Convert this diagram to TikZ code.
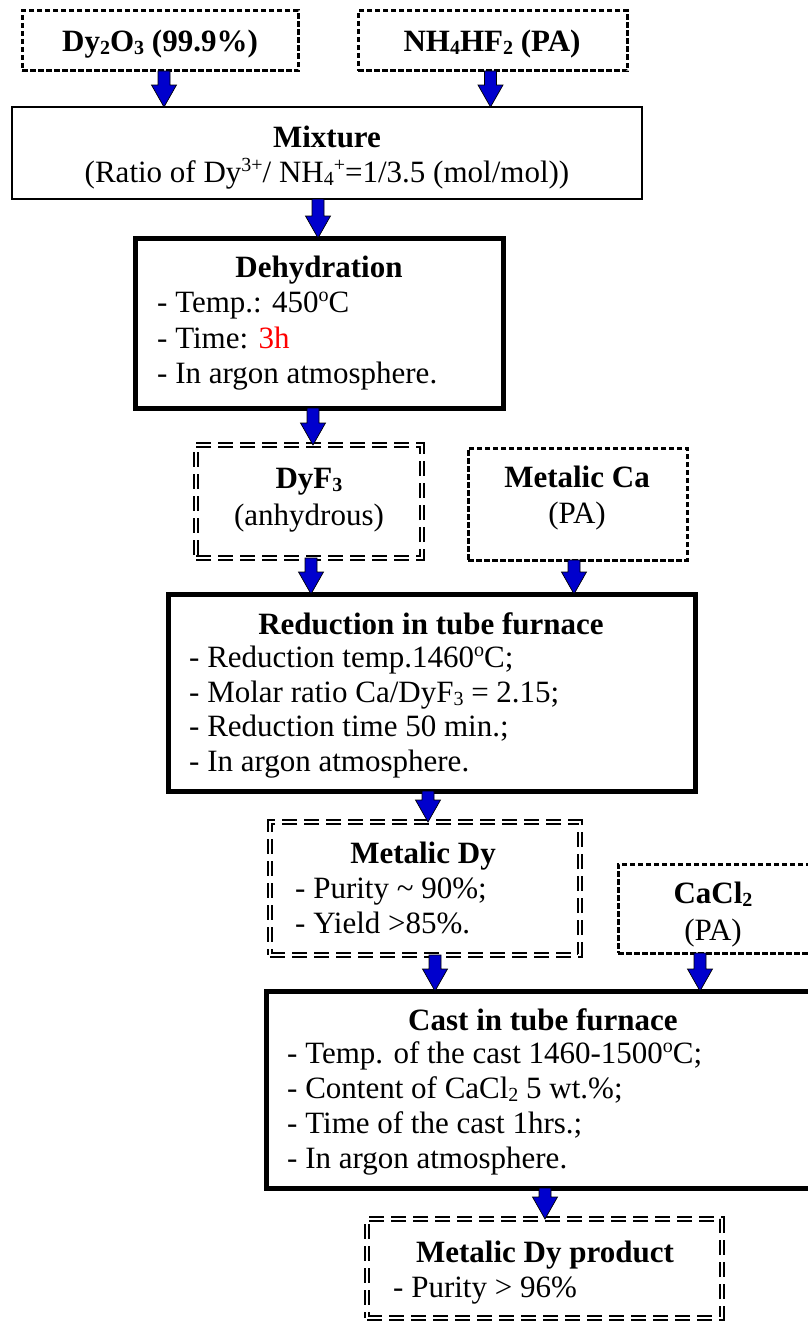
\documentclass[tikz,border=0pt]{standalone}
\usepackage{fontspec}
\setmainfont{Liberation Serif}
\usetikzlibrary{calc}
\newcommand{\lsub}[1]{\raisebox{-3pt}{\fontsize{20}{20}\selectfont #1}}
\newcommand{\lsup}[1]{\raisebox{11pt}{\fontsize{20}{20}\selectfont #1}}
\definecolor{arrowblue}{RGB}{0,0,205}
\tikzset{
  boxbase/.style={inner sep=0pt, outer sep=0pt, anchor=north west},
  dashbox/.style={boxbase, draw, line width=3pt, dash pattern=on 5.5pt off 2.5pt},
  plainbox/.style={boxbase, draw, line width=2pt},
  thickbox/.style={boxbase, draw, line width=5pt},
  dblbox/.style={boxbase, draw, line width=2pt, double=white, double distance=2pt, dash pattern=on 15pt off 7pt},
  titletext/.style={anchor=base, inner sep=0pt, font=\fontsize{31}{36}\selectfont\bfseries},
  ctext/.style={anchor=base, inner sep=0pt},
  itemtext/.style={anchor=base west, inner sep=0pt},
  barrowsty/.style={draw=black, line width=0.7pt, fill=arrowblue, line join=miter}
}
\newcommand{\barrow}[2]{\draw[barrowsty] let \p1=(#1), \p2=(#2) in
  (\x1-6pt,\y1) -- (\x1+6pt,\y1) -- (\x1+6pt,\y2+22pt) -- (\x1+12.5pt,\y2+22pt)
  -- (\x1,\y2) -- (\x1-12.5pt,\y2+22pt) -- (\x1-6pt,\y2+22pt) -- cycle;}
\begin{document}
\begin{tikzpicture}[x=1pt, y=-1pt, font=\fontsize{31}{36}\selectfont]
\useasboundingbox (0,0) rectangle (808,1322);
\fill[white] (0,0) rectangle (808,1322);
\clip (0,0) rectangle (808,1322);

% boxes
\node[dashbox, minimum width=276pt, minimum height=60pt] (dy) at (22,11) {};
\node[dashbox, minimum width=269pt, minimum height=60pt] (nh) at (358,11) {};
\node[plainbox, minimum width=630pt, minimum height=92pt] (mix) at (12,107) {};
\node[thickbox, minimum width=368pt, minimum height=170pt] (dehy) at (135,238) {};
\node[dblbox, minimum width=226pt, minimum height=113pt] (dyf) at (196,445) {};
\node[dashbox, minimum width=219pt, minimum height=112pt] (ca) at (468,448) {};
\node[thickbox, minimum width=527pt, minimum height=197pt] (red) at (168,594) {};
\node[dblbox, minimum width=310pt, minimum height=133pt] (mdy) at (270,822) {};
\node[dashbox, minimum width=212pt, minimum height=89pt] (cacl) at (618,864) {};
\node[thickbox, minimum width=564pt, minimum height=197pt] (cast) at (266,991) {};
\node[dblbox, minimum width=355pt, minimum height=99pt] (prod) at (367,1219) {};

% texts
\node[titletext] (dyt) at (160,52) {Dy\lsub{2}O\lsub{3} (99.9\%)};
\node[titletext] (nht) at (492,52) {NH\lsub{4}HF\lsub{2} (PA)};

\node[titletext] (mixt) at (327,147) {Mixture};
\node[ctext] (mixl) at (327,182) {(Ratio of Dy\lsup{3+}/ NH\lsub{4}\lsup{+}=1/3.5 (mol/mol))};

\node[titletext] (dehyt) at (319,277) {Dehydration};
\node[itemtext] (dehy1) at (157,312) {- Temp.: 450\lsup{o}C};
\node[itemtext] (dehy2) at (157,348) {- Time: \textcolor{red}{3h}};
\node[itemtext] (dehy3) at (157,383) {- In argon atmosphere.};

\node[titletext] (dyft) at (309,488) {DyF\lsub{3}};
\node[ctext] (dyfl) at (309,525) {(anhydrous)};

\node[titletext] (cat) at (577,487) {Metalic Ca};
\node[ctext] (cal) at (577,523) {(PA)};

\node[titletext] (redt) at (431,634) {Reduction in tube furnace};
\node[itemtext] (red1) at (189,667) {- Reduction temp.1460\lsup{o}C;};
\node[itemtext] (red2) at (189,702) {- Molar ratio Ca/DyF\lsub{3} = 2.15;};
\node[itemtext] (red3) at (189,736) {- Reduction time 50 min.;};
\node[itemtext] (red4) at (189,771) {- In argon atmosphere.};

\node[titletext] (mdyt) at (423,863) {Metalic Dy};
\node[itemtext] (mdy1) at (295,898) {- Purity \textasciitilde{} 90\%;};
\node[itemtext] (mdy2) at (295,933) {- Yield >85\%.};

\node[titletext] (caclt) at (713,903) {CaCl\lsub{2}};
\node[ctext] (cacll) at (713,940) {(PA)};

\node[titletext] (castt) at (543,1030) {Cast in tube furnace};
\node[itemtext] (cast1) at (287,1063) {- Temp. of the cast 1460-1500\lsup{o}C;};
\node[itemtext] (cast2) at (287,1098) {- Content of CaCl\lsub{2} 5 wt.\%;};
\node[itemtext] (cast3) at (287,1133) {- Time of the cast 1hrs.;};
\node[itemtext] (cast4) at (287,1168) {- In argon atmosphere.};

\node[titletext] (prodt) at (545,1262) {Metalic Dy product};
\node[itemtext] (prod1) at (393,1297) {- Purity > 96\%};

% arrows
\barrow{[xshift=4pt]dy.south}{mix.north}
\barrow{[xshift=-2pt]nh.south}{mix.north}
\barrow{[xshift=-9pt]mix.south}{dehy.north}
\barrow{[xshift=-6pt]dehy.south}{dyf.north}
\barrow{[xshift=2pt]dyf.south}{red.north}
\barrow{[xshift=-3.5pt]ca.south}{red.north}
\barrow{[xshift=-3.5pt]red.south}{mdy.north}
\barrow{[xshift=10pt]mdy.south}{cast.north}
\barrow{[xshift=82pt]cacl.south west}{cast.north}
\barrow{[xshift=-3pt]cast.south}{prod.north}
\end{tikzpicture}
\end{document}
